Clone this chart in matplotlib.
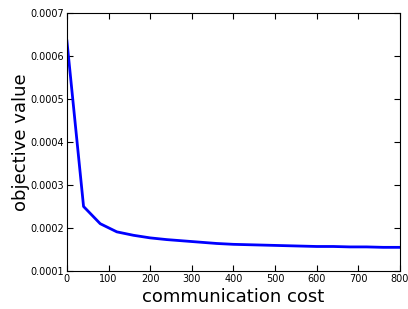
import matplotlib
matplotlib.use("Agg")
import matplotlib.pyplot as plt

# communication cost vs objective value
comm_cost = [0, 40, 80, 120, 160, 200, 240, 280, 320, 360, 400,
             440, 480, 520, 560, 600, 640, 680, 720, 760, 800]
objective = [0.000635, 0.00025, 0.00021, 0.000191, 0.000183, 0.000177,
             0.000173, 0.00017, 0.000167, 0.000164, 0.000162, 0.000161,
             0.00016, 0.000159, 0.000158, 0.000157, 0.000157, 0.000156,
             0.000156, 0.000155, 0.000155]

fig = plt.figure(figsize=(4.08, 3.09), dpi=100)
ax = fig.add_axes([0.164, 0.123, 0.816, 0.835])

ax.plot(comm_cost, objective, color='blue', linewidth=2)

ax.set_xlim(0, 800)
ax.set_ylim(0.0001, 0.0007)
ax.set_xticks(range(0, 801, 100))
ax.set_yticks([0.0001, 0.0002, 0.0003, 0.0004, 0.0005, 0.0006, 0.0007])
ax.set_yticklabels(['0.0001', '0.0002', '0.0003', '0.0004', '0.0005', '0.0006', '0.0007'])
ax.tick_params(direction='in', top=True, right=True, labelsize=7, length=4, pad=2)

ax.set_xlabel('communication cost', fontsize=13, labelpad=3)
ax.set_ylabel('objective value', fontsize=13, labelpad=0)

fig.savefig('out.png', dpi=100)
